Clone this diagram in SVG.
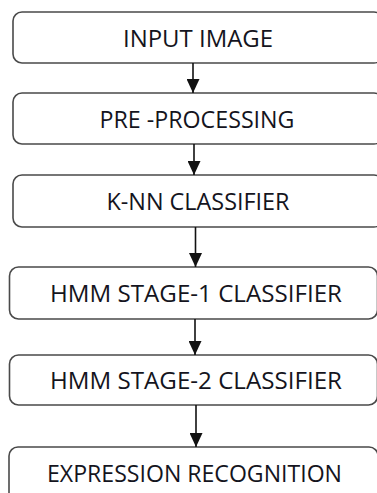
<svg xmlns="http://www.w3.org/2000/svg" width="377" height="493" viewBox="0 0 377 493">
<style>
.box{fill:#fff;stroke:#4a4a4a;stroke-width:1.6}
.lbl{font-family:"Open Sans","Liberation Sans",sans-serif;font-size:23px;fill:#141420;text-anchor:middle}
.con{stroke:#111;stroke-width:1.6;fill:none}
</style>
<defs>
<marker id="ah" markerWidth="14" markerHeight="13" refX="14" refY="6.5" orient="auto" markerUnits="userSpaceOnUse" viewBox="0 0 14 13">
<path d="M0,0 L14,6.5 L0,13 Z" fill="#111"/>
</marker>
</defs>
<rect width="377" height="493" fill="#fff"/>
<g id="n1"><rect class="box" x="13" y="12" width="370" height="51" rx="9"/><text class="lbl" x="198" y="47" textLength="150" lengthAdjust="spacingAndGlyphs">INPUT IMAGE</text></g>
<g id="n2"><rect class="box" x="13" y="93" width="370" height="51" rx="9"/><text class="lbl" x="197" y="128" textLength="195" lengthAdjust="spacingAndGlyphs">PRE -PROCESSING</text></g>
<g id="n3"><rect class="box" x="13" y="175" width="370" height="52" rx="9"/><text class="lbl" x="198" y="210" textLength="183" lengthAdjust="spacingAndGlyphs">K-NN CLASSIFIER</text></g>
<g id="n4"><rect class="box" x="9.5" y="267" width="368" height="52" rx="9"/><text class="lbl" x="196" y="302" textLength="292" lengthAdjust="spacingAndGlyphs">HMM STAGE-1 CLASSIFIER</text></g>
<g id="n5"><rect class="box" x="9.5" y="355" width="368" height="50" rx="9"/><text class="lbl" x="196" y="389" textLength="292" lengthAdjust="spacingAndGlyphs">HMM STAGE-2 CLASSIFIER</text></g>
<g id="n6"><rect class="box" x="9" y="447" width="369" height="60" rx="9"/><text class="lbl" x="194.5" y="482" textLength="295" lengthAdjust="spacingAndGlyphs">EXPRESSION RECOGNITION</text></g>
<g id="connectors">
<line class="con" x1="193" y1="63" x2="193" y2="93" marker-end="url(#ah)"/>
<line class="con" x1="194" y1="144" x2="194" y2="175" marker-end="url(#ah)"/>
<line class="con" x1="195.5" y1="227" x2="195.5" y2="267" marker-end="url(#ah)"/>
<line class="con" x1="195" y1="319" x2="195" y2="355" marker-end="url(#ah)"/>
<line class="con" x1="196" y1="405" x2="196" y2="447" marker-end="url(#ah)"/>
</g>
</svg>
